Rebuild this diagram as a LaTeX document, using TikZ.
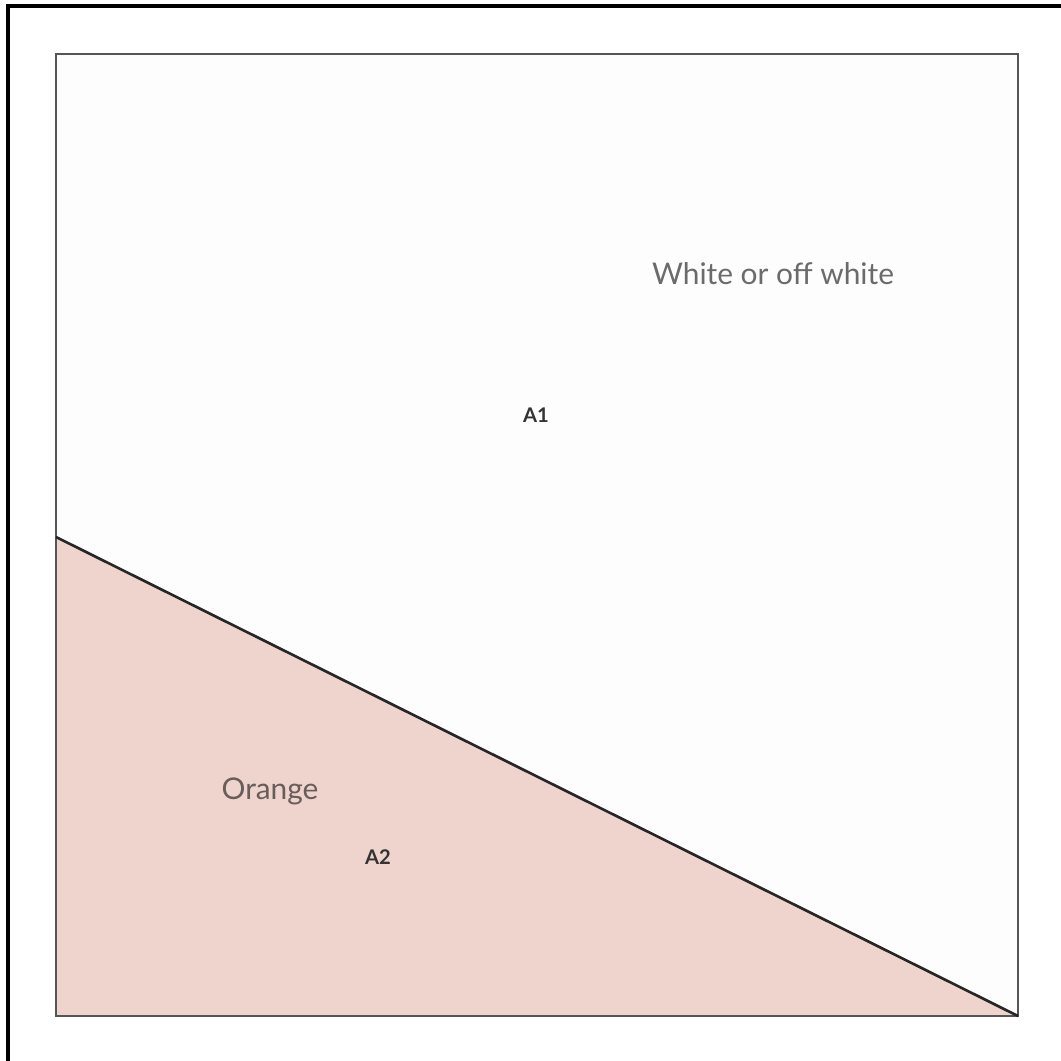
\documentclass[tikz,border=0pt]{standalone}
\usepackage{fontspec}
\setmainfont{Lato}
\definecolor{paleorange}{HTML}{EFD3CD}
\definecolor{framegray}{HTML}{555555}
\definecolor{offwhite}{HTML}{FDFDFD}
\begin{document}
\begin{tikzpicture}[
		x=0.02cm, y=-0.02cm,
		declare function={
			xl=56;
			xr=1018;
			yt=54;
			yb=1016;
			yd=537;
		},
		line width=1.3pt,
		every node/.style={font=\fontsize{17}{20}\selectfont, text=black!58},
		area/.style={font=\fontsize{11.5}{13}\selectfont\bfseries, text=black!80}
		]
		
		\useasboundingbox (0,0) rectangle (1061,1061);
		
		\path
		(xl, yt) coordinate (TL)
		(xr, yt) coordinate (TR)
		(xr, yb) coordinate (BR)
		(xl, yb) coordinate (BL)
		(xl, yd) coordinate (D)
		;
		
		% area A1 and A2
		\fill[offwhite] (TL) -- (TR) -- (BR) -- (D) -- cycle;
		\fill[paleorange] (D) -- (BR) -- (BL) -- cycle;
		\draw[framegray] (TL) -- (TR) -- (BR) -- (BL) -- cycle;
		\draw[black!85, line width=1.5pt] (D) -- (BR);
		
		% page frame
		\draw[black, line width=1.8pt] (8,1061) -- (8,6) -- (1061,6);
		
		\node (white) at (773, 274) {White or off white};
		\node[area] (aone) at (536, 415) {A1};
		\node (orange) at (270, 791) [text=black!45!paleorange!80!black] {Orange};
		\node[area] (atwo) at (378, 857) {A2};
		
	\end{tikzpicture}
\end{document}
